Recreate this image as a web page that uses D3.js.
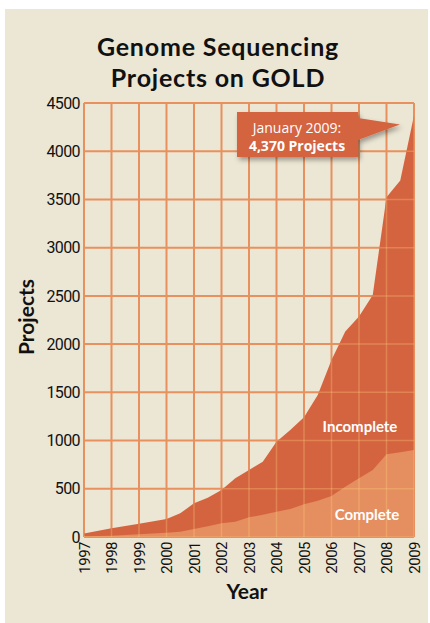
<!DOCTYPE html>
<html lang="en">
<head>
  <meta charset="UTF-8">
  <title>Genome Sequencing Projects on GOLD</title>
  <script src="https://cdn.jsdelivr.net/npm/d3@7"></script>
  <style>
    html, body { margin: 0; padding: 0; background: #fff; }
    svg { display: block; }
  </style>
</head>
<body>
  <svg id="chart" width="430" height="623"></svg>
  <script>
    // data (half-year steps)
    const years = [1997, 1998, 1999, 2000, 2000.5, 2001, 2001.5, 2002, 2002.5, 2003, 2003.5,
      2004, 2004.5, 2005, 2005.5, 2006, 2006.5, 2007, 2007.5, 2008, 2008.5, 2009]
    const totalProjects = [35, 90, 138, 187, 245, 350, 408, 488, 609, 695, 781,
      988, 1110, 1241, 1473, 1836, 2130, 2285, 2510, 3524, 3696, 4370]
    const completeProjects = [8, 14, 28, 45, 55, 83, 112, 142, 159, 204, 231,
      263, 290, 339, 377, 425, 522, 609, 695, 858, 878, 902]
    const yearLabels = ['1997', '1998', '1999', '2000', '2001', '2002', '2003',
      '2004', '2005', '2006', '2007', '2008', '2009']
    const yTicks = [0, 500, 1000, 1500, 2000, 2500, 3000, 3500, 4000, 4500]

    const rows = years.map((y, i) => ({ year: y, total: totalProjects[i], complete: completeProjects[i] }))

    const svg = d3.select('#chart')
    const pLeft = 84, pRight = 414, pTop = 103, pBottom = 537

    svg.append('rect')
      .attr('x', 5).attr('y', 9).attr('width', 423).attr('height', 614)
      .attr('fill', '#ece6d4')

    const defs = svg.append('defs')
    const f = defs.append('filter').attr('id', 'shadow')
      .attr('x', '-20%').attr('y', '-20%').attr('width', '150%').attr('height', '160%')
    f.append('feDropShadow').attr('dx', 2).attr('dy', 3).attr('stdDeviation', 2.5)
      .attr('flood-color', '#000').attr('flood-opacity', 0.35)

    const x = d3.scaleLinear().domain([1997, 2009]).range([pLeft, pRight])
    const y = d3.scaleLinear().domain([0, 4500]).range([pBottom, pTop])

    const grid = g => {
      g.selectAll('line.h').data(yTicks).join('line').attr('class', 'h')
        .attr('x1', pLeft).attr('x2', pRight)
        .attr('y1', d => y(d)).attr('y2', d => y(d))
      g.selectAll('line.v').data(yearLabels).join('line').attr('class', 'v')
        .attr('x1', d => x(+d)).attr('x2', d => x(+d))
        .attr('y1', pTop).attr('y2', pBottom)
    }

    svg.append('g')
      .attr('stroke', '#e8905e').attr('stroke-width', 2)
      .call(grid)

    const areaTotal = d3.area()
      .x(d => x(d.year)).y0(y(0)).y1(d => y(d.total))
    const areaComplete = d3.area()
      .x(d => x(d.year)).y0(y(0)).y1(d => y(d.complete))

    svg.append('path').datum(rows).attr('d', areaTotal).attr('fill', '#d4643f')
    svg.append('path').datum(rows).attr('d', areaComplete).attr('fill', '#e58e5f')

    // grid seen faintly through the areas
    defs.append('clipPath').attr('id', 'areaClip')
      .append('path').datum(rows).attr('d', areaTotal)
    svg.append('g')
      .attr('stroke', '#ffd27f').attr('stroke-opacity', 0.3).attr('stroke-width', 1.5)
      .attr('clip-path', 'url(#areaClip)')
      .call(grid)

    // axes
    const yAxis = svg.append('g')
      .attr('transform', `translate(${pLeft},0)`)
      .call(d3.axisLeft(y).tickValues(yTicks).tickFormat(d3.format('d')).tickSize(0).tickPadding(4))
    yAxis.select('.domain').remove()
    yAxis.selectAll('text')
      .attr('font-family', 'Roboto, sans-serif').attr('font-size', 16)
      .attr('fill', '#111').attr('letter-spacing', -0.6)

    const xAxis = svg.append('g')
      .attr('transform', `translate(0,${pBottom})`)
      .call(d3.axisBottom(x).tickValues(yearLabels.map(Number)).tickFormat(d3.format('d')).tickSize(0))
    xAxis.select('.domain').remove()
    xAxis.selectAll('text')
      .attr('font-family', 'Roboto, sans-serif').attr('font-size', 15)
      .attr('fill', '#111').attr('letter-spacing', -0.5)
      .attr('transform', 'rotate(-90)')
      .attr('text-anchor', 'end')
      .attr('x', -5).attr('y', 0).attr('dy', '0.35em')

    // titles
    svg.append('text')
      .attr('x', 218).attr('y', 56)
      .attr('text-anchor', 'middle')
      .attr('font-family', 'Lato, sans-serif').attr('font-weight', 700)
      .attr('font-size', 25).attr('letter-spacing', 0.8).attr('fill', '#111')
      .text('Genome Sequencing')
    svg.append('text')
      .attr('x', 218).attr('y', 87)
      .attr('text-anchor', 'middle')
      .attr('font-family', 'Lato, sans-serif').attr('font-weight', 700)
      .attr('font-size', 25).attr('letter-spacing', 0.8).attr('fill', '#111')
      .text('Projects on GOLD')

    svg.append('text')
      .attr('x', 247).attr('y', 599)
      .attr('text-anchor', 'middle')
      .attr('font-family', 'Lato, sans-serif').attr('font-weight', 700)
      .attr('font-size', 21).attr('fill', '#111')
      .text('Year')

    svg.append('text')
      .attr('transform', 'translate(34,317) rotate(-90)')
      .attr('text-anchor', 'middle')
      .attr('font-family', 'Lato, sans-serif').attr('font-weight', 700)
      .attr('font-size', 21).attr('fill', '#111')
      .text('Projects')

    // area labels
    svg.append('text')
      .attr('x', 360).attr('y', 432).attr('text-anchor', 'middle')
      .attr('font-family', 'Lato, sans-serif').attr('font-weight', 700)
      .attr('font-size', 15).attr('fill', '#fff')
      .text('Incomplete')
    svg.append('text')
      .attr('x', 367).attr('y', 520).attr('text-anchor', 'middle')
      .attr('font-family', 'Lato, sans-serif').attr('font-weight', 700)
      .attr('font-size', 15).attr('fill', '#fff')
      .text('Complete')

    // callout
    const last = rows[rows.length - 1]
    const tipX = x(last.year) - 14, tipY = y(last.total) + 9
    const bx0 = 237, bx1 = 358, by0 = 112, by1 = 157
    svg.append('path')
      .attr('d', `M${bx0},${by0}H${bx1}V${by0 + 6}L${tipX},${tipY}L${bx1},${by0 + 28}V${by1}H${bx0}Z`)
      .attr('fill', '#d4643f')
      .attr('filter', 'url(#shadow)')
    const call = svg.append('text')
      .attr('text-anchor', 'middle').attr('fill', '#fff')
      .attr('font-family', '"Open Sans", sans-serif').attr('font-size', 14)
    call.append('tspan').attr('x', 297).attr('y', 133).text('January 2009:')
    call.append('tspan').attr('x', 297).attr('y', 151).attr('font-weight', 700)
      .text(d3.format(',')(last.total) + ' Projects')
  </script>
</body>
</html>
